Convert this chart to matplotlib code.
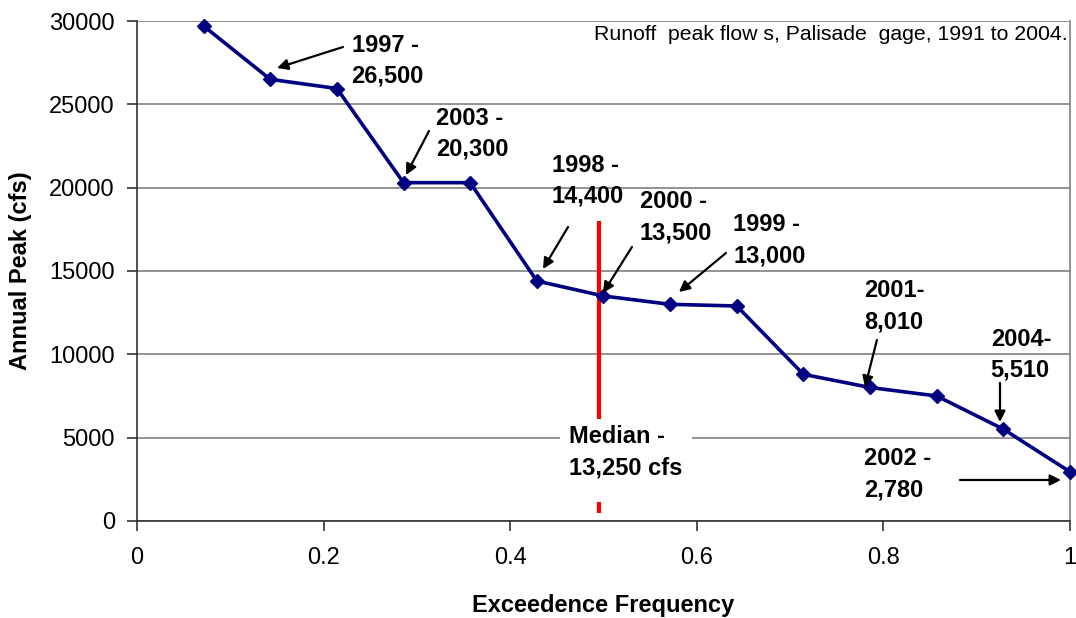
import matplotlib
matplotlib.use("Agg")
import matplotlib.pyplot as plt
from matplotlib.patches import Rectangle

plt.rcParams["font.family"] = ["Liberation Sans", "DejaVu Sans"]

# Exceedence frequency of each annual peak (rank / 14)
freq = [1 / 14, 2 / 14, 3 / 14, 4 / 14, 5 / 14, 6 / 14, 7 / 14,
        8 / 14, 9 / 14, 10 / 14, 11 / 14, 12 / 14, 13 / 14, 14 / 14]
peak_cfs = [29700, 26500, 25950, 20300, 20300, 14400, 13500,
            13000, 12900, 8800, 8010, 7500, 5510, 2950]

median_freq = 0.495
median_range = [500, 18000]

x_ticks = [0, 0.2, 0.4, 0.6, 0.8, 1.0]
x_tick_labels = ["0", "0.2", "0.4", "0.6", "0.8", "1"]
y_ticks = [0, 5000, 10000, 15000, 20000, 25000, 30000]

# label text, text position (left/top), arrow tail, arrow tip
notes = [
    ("1997 -\n26,500", (0.230, 29250), (0.2208, 28440), (0.1501, 27180)),
    ("2003 -\n20,300", (0.3205, 24870), (0.313, 23400), (0.2883, 20760)),
    ("1998 -\n14,400", (0.4448, 22050), (0.462, 17640), (0.4352, 15120)),
    ("2000 -\n13,500", (0.539, 19830), (0.5305, 16440), (0.4995, 13680)),
    ("1999 -\n13,000", (0.639, 18450), (0.6313, 16080), (0.5809, 13740)),
    ("2001-\n8,010", (0.779, 14490), (0.7931, 10860), (0.7803, 8040)),
    ("2004-\n5,510", (0.915, 11600), (0.925, 8280), (0.925, 5940)),
    ("2002 -\n2,780", (0.779, 4410), (0.8821, 2460), (0.9904, 2460)),
]

fig = plt.figure(figsize=(10.76, 6.18), dpi=100)
ax = fig.add_axes([0.1273, 0.157, 0.8671, 0.809])

ax.set_xlim(0, 1)
ax.set_ylim(0, 30000)
ax.set_xticks(x_ticks)
ax.set_xticklabels(x_tick_labels)
ax.set_yticks(y_ticks)
ax.tick_params(axis="both", direction="out", length=7, width=1.2, color="#333333",
               labelsize=17)
ax.tick_params(axis="x", pad=12)
ax.tick_params(axis="y", pad=9)

ax.grid(axis="y", color="#808080", linewidth=1.2, zorder=0)
ax.set_axisbelow(True)
ax.spines["top"].set_visible(False)
ax.spines["right"].set_color("#808080")
ax.spines["right"].set_linewidth(1.2)
ax.spines["left"].set_color("#333333")
ax.spines["bottom"].set_color("#333333")
ax.spines["left"].set_linewidth(1.2)
ax.spines["bottom"].set_linewidth(1.2)

ax.vlines(median_freq, median_range[0], median_range[1], color="#ff0000", linewidth=3, zorder=2)

ax.plot(freq, peak_cfs, color="#000080", linewidth=2.6, marker="D", markersize=7.5,
        zorder=4, clip_on=False)

# white box behind the median label
ax.add_patch(Rectangle((0.453, 1140), 0.142, 4980, facecolor="white", edgecolor="none", zorder=3))
ax.text(0.463, 5730, "Median -\n13,250 cfs", ha="left", va="top", fontsize=17,
        fontweight="bold", linespacing=1.45, zorder=5)

for label, text_pos, tail, tip in notes:
    ax.text(text_pos[0], text_pos[1], label, ha="left", va="top", fontsize=17,
            fontweight="bold", linespacing=1.45, zorder=5)
    ax.annotate("", xy=tip, xytext=tail,
                arrowprops=dict(arrowstyle="-|>", color="black", lw=1.6,
                                mutation_scale=16, shrinkA=0, shrinkB=0),
                zorder=5)

ax.text(0.998, 0.992, "Runoff  peak flow s, Palisade  gage, 1991 to 2004.",
        transform=ax.transAxes, ha="right", va="top", fontsize=15.3)

ax.set_xlabel("Exceedence Frequency", fontsize=17, fontweight="bold", labelpad=18)
ax.set_ylabel("Annual Peak (cfs)", fontsize=17, fontweight="bold", labelpad=12)

fig.savefig("out.png", dpi=100)
